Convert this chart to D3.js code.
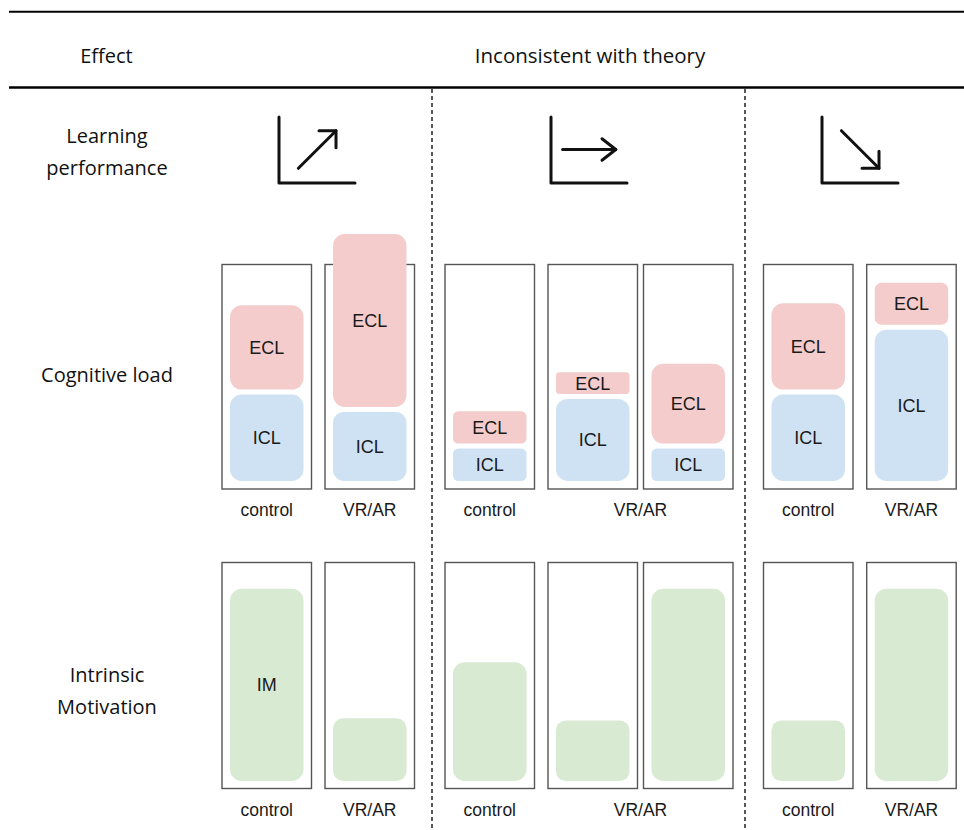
<!DOCTYPE html>
<html>
<head>
<meta charset="utf-8">
<script src="https://cdn.jsdelivr.net/npm/d3@7"></script>
<style>
  html, body { margin: 0; padding: 0; background: #fff; }
  svg { display: block; }
</style>
</head>
<body>
<svg id="chart" width="964" height="830"></svg>
<script>
// ---------- DATA ----------
const headerLabels = ["Effect", "Inconsistent with theory"];
const rowLabels = [["Learning", "performance"], ["Cognitive load"], ["Intrinsic", "Motivation"]];
const trends = ["up", "flat", "down"];                 // learning performance per panel
const boxIds = ["p1c", "p1v", "p2c", "p2v1", "p2v2", "p3c", "p3v"];
const boxPanel = [0, 0, 1, 1, 1, 2, 2];
const iclValues = [40, 32, 15, 38, 15, 40, 70];      // intrinsic cognitive load
const eclValues = [39, 80, 15, 10, 37, 40, 19.5];    // extraneous cognitive load
const imValues  = [89, 29, 55, 28, 89, 28, 89];      // intrinsic motivation
const conditionLabels = ["control", "VR/AR"];
const conditionGroups = [["p1c"], ["p1v"], ["p2c"], ["p2v1", "p2v2"], ["p3c"], ["p3v"]];
const conditionGroupLabel = [0, 1, 0, 1, 0, 1];
const segLabels = ["ICL", "ECL", "IM"];

// ---------- LAYOUT ----------
const svg = d3.select("#chart");
const colors = { ICL: "#cfe2f3", ECL: "#f4cccc", IM: "#d9ead3" };
const textFont = "'Open Sans', 'Noto Sans', sans-serif";
const boxFont = "'Liberation Sans', Arial, sans-serif";

const x = d3.scaleOrdinal().domain(boxIds).range([222, 325, 445, 548, 643.5, 763.5, 866.7]);
const boxW = 89.5, inset = 8, gap = 5;
const h = d3.scaleLinear().domain([0, 100]).range([0, 216]);

const rows = {
  cog: { top: 264.5, bottom: 489, base: 481, labelY: 510 },
  im:  { top: 562.5, bottom: 788.5, base: 781, labelY: 810 }
};

// header rules
svg.append("line").attr("x1", 9).attr("x2", 964).attr("y1", 11.7).attr("y2", 11.7)
  .attr("stroke", "#000").attr("stroke-width", 2);
svg.append("line").attr("x1", 9).attr("x2", 964).attr("y1", 87.5).attr("y2", 87.5)
  .attr("stroke", "#000").attr("stroke-width", 2.6);

// header texts
svg.append("text").attr("x", 106.5).attr("y", 63).attr("text-anchor", "middle")
  .attr("font-family", textFont).attr("font-size", 20).attr("fill", "#111").text(headerLabels[0]);
svg.append("text").attr("x", 590).attr("y", 63.3).attr("text-anchor", "middle")
  .attr("font-family", textFont).attr("font-size", 20.5).attr("fill", "#111").text(headerLabels[1]);

// dashed panel separators
[432, 745].forEach(xx => {
  svg.append("line").attr("x1", xx).attr("x2", xx).attr("y1", 89).attr("y2", 830)
    .attr("stroke", "#111").attr("stroke-width", 1.4).attr("stroke-dasharray", "4,3");
});

// row labels
const rowBaselines = [[143.3, 175], [381.7], [682, 713.5]];
rowLabels.forEach((lines, i) => {
  lines.forEach((t, j) => {
    svg.append("text").attr("x", 107).attr("y", rowBaselines[i][j]).attr("text-anchor", "middle")
      .attr("font-family", textFont).attr("font-size", 20).attr("fill", "#111").text(t);
  });
});

// trend icons
const iconX = [279, 551, 822];
const angleOf = { up: -45, flat: 0, down: 45 };
trends.forEach((tr, i) => {
  const x0 = iconX[i];
  const g = svg.append("g").attr("fill", "none").attr("stroke", "#111")
    .attr("stroke-width", 3).attr("stroke-linecap", "round").attr("stroke-linejoin", "round");
  g.append("path").attr("d", `M${x0},117 V183 H${x0 + 76}`);
  const cx = x0 + 38.2, cy = 149.5, L = 53.2;
  const a = angleOf[tr] * Math.PI / 180;
  const sx = cx - Math.cos(a) * L / 2, sy = cy - Math.sin(a) * L / 2;
  const ex = cx + Math.cos(a) * L / 2, ey = cy + Math.sin(a) * L / 2;
  g.append("path").attr("d", `M${sx},${sy} L${ex},${ey}`);
  const hl = tr === "flat" ? 17.5 : 17;
  const ha = tr === "flat" ? 38 : 45;
  const a1 = a + Math.PI - ha * Math.PI / 180, a2 = a + Math.PI + ha * Math.PI / 180;
  g.append("path").attr("d",
    `M${ex + Math.cos(a1) * hl},${ey + Math.sin(a1) * hl} L${ex},${ey} L${ex + Math.cos(a2) * hl},${ey + Math.sin(a2) * hl}`);
});

// rounded rect helper
function rr(sel, x0, y0, w, hh, fill) {
  const r = 0.16 * Math.min(w, hh);
  sel.append("rect").attr("x", x0).attr("y", y0).attr("width", w).attr("height", hh)
    .attr("rx", r).attr("ry", r).attr("fill", fill);
}

// outer boxes
Object.values(rows).forEach(row => {
  svg.append("g").selectAll("rect").data(boxIds).join("rect")
    .attr("x", d => x(d)).attr("y", row.top).attr("width", boxW).attr("height", row.bottom - row.top)
    .attr("fill", "#fff").attr("stroke", "#555").attr("stroke-width", 1.4);
});

// cognitive load bars
const cogG = svg.append("g");
boxIds.forEach((id, i) => {
  const bx = x(id) + inset, bw = boxW - 2 * inset;
  const icH = h(iclValues[i]), ecH = h(eclValues[i]);
  const icTop = rows.cog.base - icH;
  const ecTop = icTop - gap - ecH;
  rr(cogG, bx, icTop, bw, icH, colors.ICL);
  rr(cogG, bx, ecTop, bw, ecH, colors.ECL);
  cogG.append("text").attr("x", bx + bw / 2).attr("y", icTop + icH / 2).attr("dy", "0.36em")
    .attr("text-anchor", "middle").attr("font-family", boxFont).attr("font-size", 18).attr("fill", "#1a1a1a").text(segLabels[0]);
  cogG.append("text").attr("x", bx + bw / 2).attr("y", ecTop + ecH / 2).attr("dy", "0.36em")
    .attr("text-anchor", "middle").attr("font-family", boxFont).attr("font-size", 18).attr("fill", "#1a1a1a").text(segLabels[1]);
});

// intrinsic motivation bars
const imG = svg.append("g");
boxIds.forEach((id, i) => {
  const bx = x(id) + inset, bw = boxW - 2 * inset;
  const imH = h(imValues[i]);
  const top = rows.im.base - imH;
  rr(imG, bx, top, bw, imH, colors.IM);
  if (i === 0) {
    imG.append("text").attr("x", bx + bw / 2).attr("y", top + imH / 2).attr("dy", "0.36em")
      .attr("text-anchor", "middle").attr("font-family", boxFont).attr("font-size", 18).attr("fill", "#1a1a1a").text(segLabels[2]);
  }
});

// condition labels
Object.values(rows).forEach(row => {
  conditionGroups.forEach((grp, gi) => {
    const cx = d3.mean(grp, id => x(id) + boxW / 2);
    svg.append("text").attr("x", cx).attr("y", row.labelY).attr("dy", "0.36em")
      .attr("text-anchor", "middle").attr("font-family", boxFont).attr("font-size", 17.5).attr("fill", "#1a1a1a")
      .text(conditionLabels[conditionGroupLabel[gi]]);
  });
});
</script>
</body>
</html>
